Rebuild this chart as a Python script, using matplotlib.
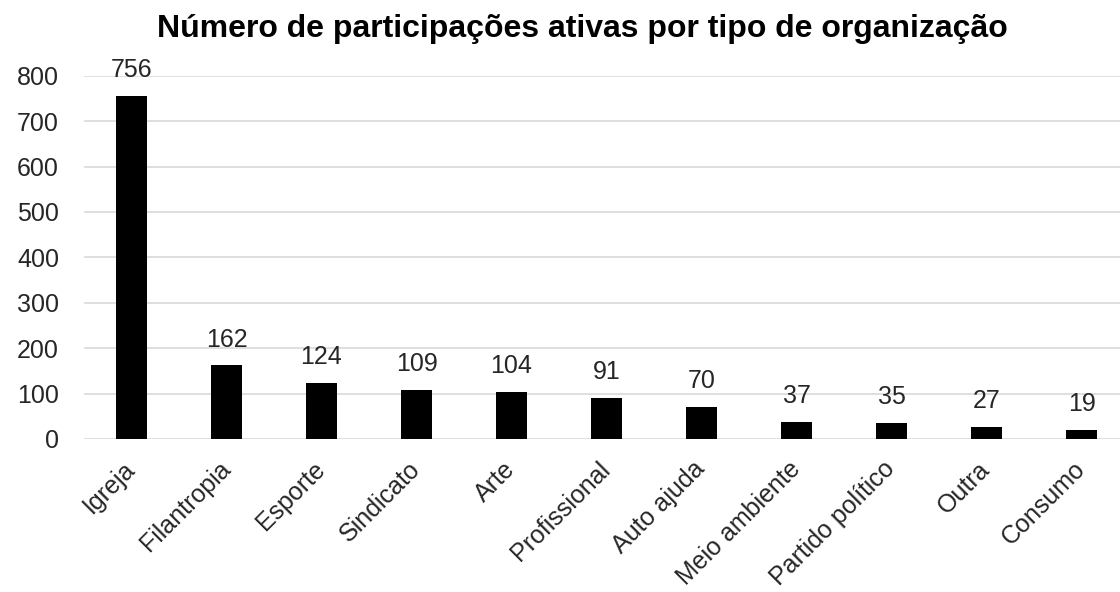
import matplotlib.pyplot as plt

# dados
categorias = ['Igreja', 'Filantropia', 'Esporte', 'Sindicato', 'Arte', 'Profissional',
              'Auto ajuda', 'Meio ambiente', 'Partido político', 'Outra', 'Consumo']
valores = [756, 162, 124, 109, 104, 91, 70, 37, 35, 27, 19]
ticks_y = [0, 100, 200, 300, 400, 500, 600, 700, 800]

plt.rcParams['font.family'] = ['Liberation Sans', 'DejaVu Sans']

fig = plt.figure(figsize=(11.2, 5.92), dpi=100)
ax = fig.add_axes([84 / 1120, 153 / 592, 1045 / 1120, 363.3 / 592])

x = range(len(categorias))
barras = ax.bar(x, valores, width=0.335, color='black', zorder=3)
for b, v in zip(barras, valores):
    ax.annotate(str(v), (b.get_x() + b.get_width() / 2, v), xytext=(0, 10),
                textcoords='offset points', ha='center', va='bottom',
                fontsize=18, color='#262626')

ax.set_xlim(-0.5, 10.5)
ax.set_ylim(0, 800)
ax.set_yticks(ticks_y)
ax.set_xticks(list(x))
ax.set_xticklabels(categorias, rotation=45, ha='right', va='center',
                   rotation_mode='anchor')
ax.tick_params(axis='both', length=0, labelsize=18, labelcolor='#262626')
ax.tick_params(axis='y', pad=18)
ax.tick_params(axis='x', pad=19)
ax.grid(axis='y', color='#d9d9d9', linewidth=1.2, zorder=0)
for s in ax.spines.values():
    s.set_visible(False)

fig.suptitle('Número de participações ativas por tipo de organização',
             x=0.52, y=1 - 37 / 592, va='baseline', fontsize=23,
             fontweight='bold', color='black')

fig.savefig('out.png', dpi=100)
